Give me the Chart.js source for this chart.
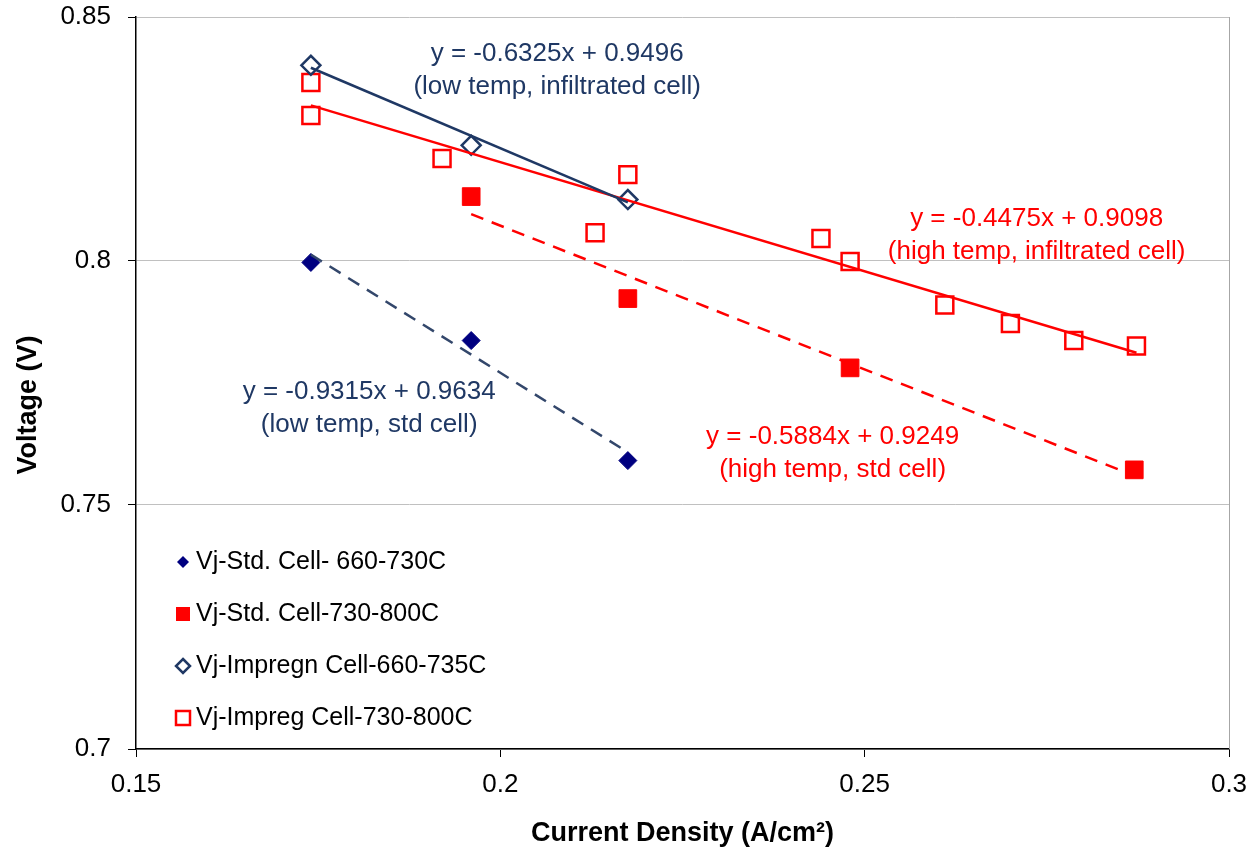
<!DOCTYPE html>
<html>
<head>
<meta charset="utf-8">
<script src="https://cdn.jsdelivr.net/npm/chart.js@4/dist/chart.umd.min.js"></script>
<style>
  body { margin: 0; background: #fff; }
  #wrap { width: 1254px; height: 850px; }
</style>
</head>
<body>
<div id="wrap"><canvas id="chart" width="1254" height="850"></canvas></div>
<script>
/* measured points, current density (A/cm2) vs voltage (V) */
let stdLowX = [0.174, 0.196, 0.2175];
let stdLowY = [0.7997, 0.7837, 0.7591];

let stdHighX = [0.196, 0.2175, 0.248, 0.287];
let stdHighY = [0.8132, 0.7923, 0.7781, 0.7572];

let impLowX = [0.174, 0.196, 0.2175];
let impLowY = [0.8401, 0.8237, 0.8126];

let impHighX = [0.174, 0.174, 0.192, 0.2175, 0.213, 0.244, 0.248, 0.261, 0.27, 0.2787, 0.2873];
let impHighY = [0.8366, 0.8298, 0.821, 0.8177, 0.8058, 0.8046, 0.7999, 0.791, 0.7872, 0.7837, 0.7826];

/* trendline end points (from the fitted equations) */
let fitImpLowX = [0.174, 0.2175];
let fitImpLowY = [0.8396, 0.8120];
let fitImpHighX = [0.174, 0.2873];
let fitImpHighY = [0.8319, 0.7812];
let fitStdLowX = [0.174, 0.2175];
let fitStdLowY = [0.8013, 0.7608];
let fitStdHighX = [0.196, 0.287];
let fitStdHighY = [0.8096, 0.7560];

let xTicks = [0.15, 0.2, 0.25, 0.3];
let yTicks = [0.7, 0.75, 0.8, 0.85];

let legendLabels = ["Vj-Std. Cell- 660-730C", "Vj-Std. Cell-730-800C", "Vj-Impregn Cell-660-735C", "Vj-Impreg Cell-730-800C"];

/* equation labels: text lines + anchor in data units */
let eqLines = [
    ["y = -0.6325x + 0.9496", "(low temp, infiltrated cell)"],
    ["y = -0.4475x + 0.9098", "(high temp, infiltrated cell)"],
    ["y = -0.9315x + 0.9634", "(low temp, std cell)"],
    ["y = -0.5884x + 0.9249", "(high temp, std cell)"]
];
let eqX = [0.2078, 0.2736, 0.1820, 0.2456];
let eqY = [0.8425, 0.8087, 0.7732, 0.7640];

const NAVY = "#000080";
const DARKBLUE = "#1f3864";
const DASHBLUE = "#33476b";
const RED = "#ff0000";
const eqColors = [DARKBLUE, RED, DARKBLUE, RED];
const FONT = "'Liberation Sans', Arial, sans-serif";

function pts(xs, ys) {
    return xs.map((x, i) => ({ x: x, y: ys[i] }));
}

function fitLine(xs, ys, color, dash) {
    return {
        data: pts(xs, ys), showLine: true, pointRadius: 0,
        borderColor: color, borderWidth: 2.5, borderDash: dash, fill: false
    };
}

function marker(ctx, kind, x, y, r) {
    ctx.save();
    ctx.beginPath();
    if (kind == "diamond" || kind == "odiamond") {
        ctx.moveTo(x, y - r); ctx.lineTo(x + r, y); ctx.lineTo(x, y + r); ctx.lineTo(x - r, y); ctx.closePath();
    } else {
        ctx.rect(x - r, y - r, 2 * r, 2 * r);
    }
    if (kind == "diamond") { ctx.fillStyle = NAVY; ctx.fill(); }
    if (kind == "square") { ctx.fillStyle = RED; ctx.fill(); }
    if (kind == "odiamond") { ctx.lineWidth = 2.5; ctx.strokeStyle = DARKBLUE; ctx.stroke(); }
    if (kind == "osquare") { ctx.lineWidth = 2.5; ctx.strokeStyle = RED; ctx.stroke(); }
    ctx.restore();
}

const overlay = {
    id: "overlay",
    afterDraw(chart) {
        let ctx = chart.ctx;
        let a = chart.chartArea;
        let sx = chart.scales.x, sy = chart.scales.y;

        // right border of plot area
        ctx.save();
        ctx.strokeStyle = "#a6a6a6";
        ctx.lineWidth = 1;
        ctx.beginPath();
        ctx.moveTo(a.right + 0.5, a.top);
        ctx.lineTo(a.right + 0.5, a.bottom);
        ctx.stroke();

        // y axis title (sits a bit below the plot centre in the original)
        ctx.save();
        ctx.translate(29, a.top + (a.bottom - a.top) / 2 + 22);
        ctx.rotate(-Math.PI / 2);
        ctx.font = "bold 27px " + FONT;
        ctx.fillStyle = "#000";
        ctx.textAlign = "center";
        ctx.textBaseline = "middle";
        ctx.fillText("Voltage (V)", 0, 0);
        ctx.restore();

        // equation labels
        ctx.font = "26px " + FONT;
        ctx.textAlign = "center";
        ctx.textBaseline = "middle";
        eqLines.forEach((lines, i) => {
            ctx.fillStyle = eqColors[i];
            let px = sx.getPixelForValue(eqX[i]);
            let py = sy.getPixelForValue(eqY[i]);
            lines.forEach((t, k) => ctx.fillText(t, px, py + k * 33));
        });

        // legend inside the plot
        let kinds = ["diamond", "square", "odiamond", "osquare"];
        let sizes = [6, 7, 7, 7];
        ctx.font = "25px " + FONT;
        ctx.textAlign = "left";
        legendLabels.forEach((t, i) => {
            let ly = a.top + 545 + i * 52;
            marker(ctx, kinds[i], a.left + 47, ly, sizes[i]);
            ctx.fillStyle = "#000";
            ctx.fillText(t, a.left + 60, ly);
        });
        ctx.restore();
    }
};

new Chart(document.getElementById("chart"), {
    type: "scatter",
    data: {
        datasets: [
            fitLine(fitImpLowX, fitImpLowY, DARKBLUE, []),
            fitLine(fitImpHighX, fitImpHighY, RED, []),
            fitLine(fitStdLowX, fitStdLowY, DASHBLUE, [13, 9]),
            fitLine(fitStdHighX, fitStdHighY, RED, [13, 9]),
            {
                label: legendLabels[0], data: pts(stdLowX, stdLowY),
                pointStyle: "rectRot", pointRadius: 9, backgroundColor: NAVY, borderColor: NAVY, borderWidth: 1
            },
            {
                label: legendLabels[1], data: pts(stdHighX, stdHighY),
                pointStyle: "rect", pointRadius: 12.5, backgroundColor: RED, borderColor: RED, borderWidth: 1
            },
            {
                label: legendLabels[2], data: pts(impLowX, impLowY),
                pointStyle: "rectRot", pointRadius: 9.5, backgroundColor: "rgba(0,0,0,0)", borderColor: DARKBLUE, borderWidth: 2.5
            },
            {
                label: legendLabels[3], data: pts(impHighX, impHighY),
                pointStyle: "rect", pointRadius: 12, backgroundColor: "rgba(0,0,0,0)", borderColor: RED, borderWidth: 2.5
            }
        ]
    },
    options: {
        responsive: false,
        devicePixelRatio: 1,
        animation: false,
        layout: { padding: { left: 0, top: 17, right: 25, bottom: 0 } },
        plugins: { legend: { display: false }, tooltip: { enabled: false } },
        scales: {
            x: {
                type: "linear", min: 0.15, max: 0.3,
                afterBuildTicks: s => { s.ticks = xTicks.map(v => ({ value: v })); },
                afterFit: s => { s.height = 101; s.paddingLeft = 0; s.paddingRight = 0; },
                grid: { drawOnChartArea: false, tickLength: 8, tickColor: "#000" },
                border: { color: "#000", width: 1.5 },
                ticks: {
                    padding: 12, color: "#000", font: { family: FONT, size: 26 },
                    callback: v => String(Number(v.toFixed(2)))
                },
                title: {
                    display: true, text: "Current Density (A/cm²)", color: "#000",
                    font: { family: FONT, size: 27, weight: "bold" }, padding: { top: 0, bottom: 0 }
                }
            },
            y: {
                type: "linear", min: 0.7, max: 0.85,
                afterBuildTicks: s => { s.ticks = yTicks.map(v => ({ value: v })); },
                afterFit: s => { s.width = 136; s.paddingTop = 0; s.paddingBottom = 0; },
                grid: { color: "#c0c0c0", lineWidth: 1, tickLength: 8, tickColor: "#000" },
                border: { color: "#000", width: 1.5 },
                ticks: {
                    padding: 17, color: "#000", font: { family: FONT, size: 26 },
                    callback: v => String(Number(v.toFixed(2)))
                },
                title: { display: false }
            }
        }
    },
    plugins: [overlay]
});
</script>
</body>
</html>
